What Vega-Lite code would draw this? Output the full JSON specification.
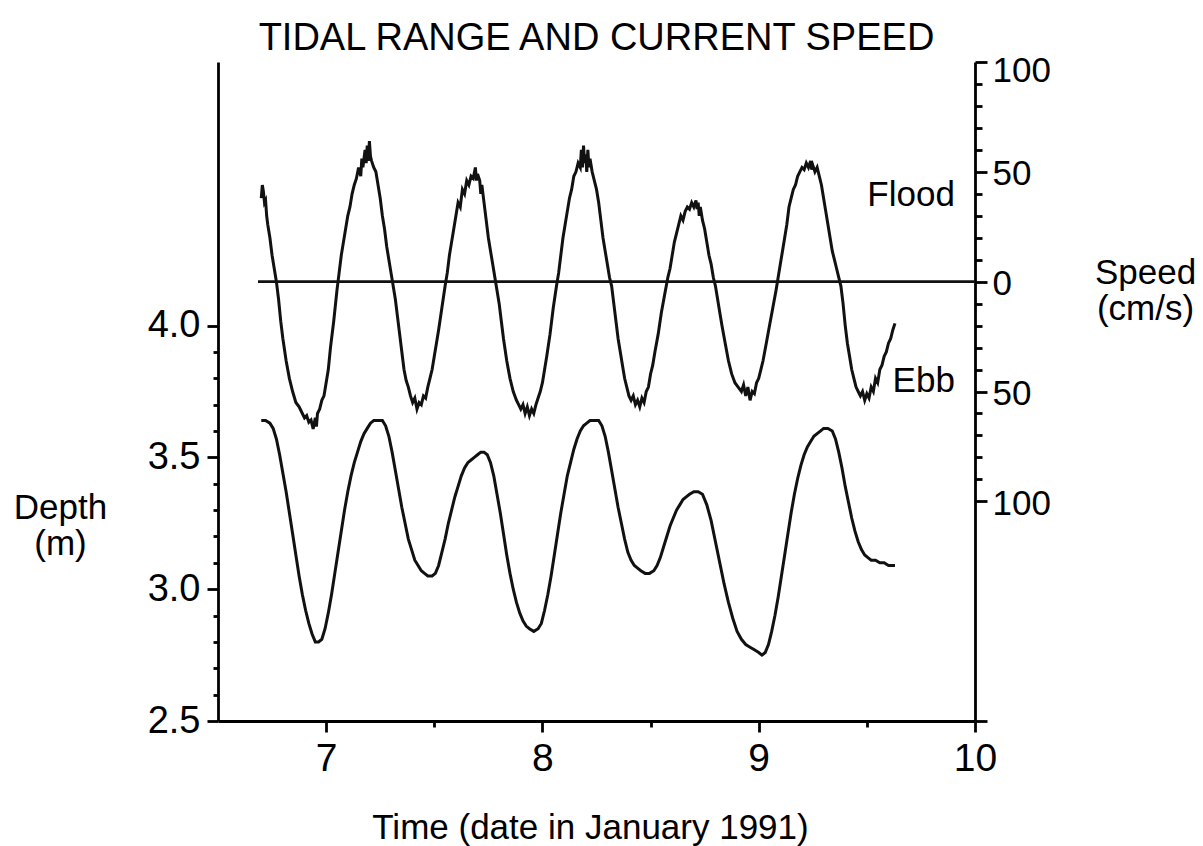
{
  "$schema": "https://vega.github.io/schema/vega-lite/v6.json",
  "width": 757,
  "height": 659,
  "autosize": {"type": "none"},
  "padding": {"left": 218, "top": 62, "right": 228, "bottom": 125},
  "background": "white",
  "title": {"text": "TIDAL RANGE AND CURRENT SPEED", "fontSize": 38, "fontWeight": "normal", "font": "Liberation Sans", "color": "black", "anchor": "middle", "offset": -5},
  "config": {
    "view": {"stroke": null},
    "font": "Liberation Sans",
    "axis": {"domainColor": "black", "domainWidth": 2.8, "tickColor": "black", "tickWidth": 2.8, "labelColor": "black", "labelFont": "Liberation Sans", "labelFontSize": 35, "titleFont": "Liberation Sans", "titleFontSize": 35, "titleFontWeight": "normal", "titleColor": "black", "grid": false, "labelFlush": false, "labelOverlap": false, "labelBound": false}
  },
  "datasets": {
    "depth": [
      {"t":6.700,"d":3.64},{"t":6.720,"d":3.64},{"t":6.740,"d":3.63},{"t":6.755,"d":3.61},{"t":6.770,"d":3.57},{"t":6.785,"d":3.51},{"t":6.800,"d":3.44},{"t":6.815,"d":3.37},{"t":6.830,"d":3.29},{"t":6.845,"d":3.21},{"t":6.860,"d":3.13},{"t":6.875,"d":3.05},{"t":6.890,"d":2.98},{"t":6.905,"d":2.92},{"t":6.920,"d":2.87},{"t":6.935,"d":2.83},{"t":6.950,"d":2.80},{"t":6.965,"d":2.80},{"t":6.980,"d":2.81},{"t":6.995,"d":2.85},
      {"t":7.010,"d":2.91},{"t":7.025,"d":2.98},{"t":7.040,"d":3.06},{"t":7.055,"d":3.14},{"t":7.070,"d":3.22},{"t":7.085,"d":3.30},{"t":7.100,"d":3.37},{"t":7.115,"d":3.43},{"t":7.130,"d":3.48},{"t":7.145,"d":3.52},{"t":7.160,"d":3.56},{"t":7.175,"d":3.59},{"t":7.190,"d":3.61},{"t":7.205,"d":3.63},{"t":7.220,"d":3.64},{"t":7.240,"d":3.64},{"t":7.260,"d":3.64},{"t":7.275,"d":3.62},{"t":7.290,"d":3.58},{"t":7.305,"d":3.52},
      {"t":7.320,"d":3.45},{"t":7.335,"d":3.38},{"t":7.350,"d":3.31},{"t":7.365,"d":3.25},{"t":7.380,"d":3.19},{"t":7.395,"d":3.15},{"t":7.410,"d":3.11},{"t":7.425,"d":3.09},{"t":7.440,"d":3.07},{"t":7.455,"d":3.06},{"t":7.470,"d":3.05},{"t":7.490,"d":3.05},{"t":7.505,"d":3.06},{"t":7.520,"d":3.09},{"t":7.535,"d":3.14},{"t":7.550,"d":3.19},{"t":7.565,"d":3.25},{"t":7.580,"d":3.30},{"t":7.595,"d":3.35},{"t":7.610,"d":3.39},
      {"t":7.625,"d":3.43},{"t":7.640,"d":3.46},{"t":7.655,"d":3.48},{"t":7.670,"d":3.49},{"t":7.685,"d":3.50},{"t":7.700,"d":3.51},{"t":7.715,"d":3.52},{"t":7.730,"d":3.52},{"t":7.745,"d":3.51},{"t":7.760,"d":3.48},{"t":7.775,"d":3.43},{"t":7.790,"d":3.36},{"t":7.805,"d":3.29},{"t":7.820,"d":3.21},{"t":7.835,"d":3.13},{"t":7.850,"d":3.06},{"t":7.865,"d":3.00},{"t":7.880,"d":2.95},{"t":7.895,"d":2.91},{"t":7.910,"d":2.88},
      {"t":7.925,"d":2.86},{"t":7.940,"d":2.85},{"t":7.960,"d":2.84},{"t":7.980,"d":2.85},{"t":7.995,"d":2.87},{"t":8.010,"d":2.92},{"t":8.025,"d":2.98},{"t":8.040,"d":3.05},{"t":8.055,"d":3.13},{"t":8.070,"d":3.21},{"t":8.085,"d":3.29},{"t":8.100,"d":3.36},{"t":8.115,"d":3.43},{"t":8.130,"d":3.48},{"t":8.145,"d":3.53},{"t":8.160,"d":3.57},{"t":8.175,"d":3.60},{"t":8.190,"d":3.62},{"t":8.205,"d":3.63},{"t":8.220,"d":3.64},
      {"t":8.240,"d":3.64},{"t":8.260,"d":3.64},{"t":8.275,"d":3.62},{"t":8.290,"d":3.58},{"t":8.305,"d":3.52},{"t":8.320,"d":3.45},{"t":8.335,"d":3.38},{"t":8.350,"d":3.31},{"t":8.365,"d":3.25},{"t":8.380,"d":3.19},{"t":8.395,"d":3.14},{"t":8.410,"d":3.11},{"t":8.425,"d":3.09},{"t":8.440,"d":3.08},{"t":8.455,"d":3.07},{"t":8.475,"d":3.06},{"t":8.495,"d":3.06},{"t":8.515,"d":3.07},{"t":8.530,"d":3.09},{"t":8.545,"d":3.12},
      {"t":8.560,"d":3.16},{"t":8.575,"d":3.20},{"t":8.590,"d":3.24},{"t":8.605,"d":3.27},{"t":8.620,"d":3.30},{"t":8.635,"d":3.32},{"t":8.650,"d":3.34},{"t":8.665,"d":3.35},{"t":8.680,"d":3.36},{"t":8.700,"d":3.37},{"t":8.720,"d":3.37},{"t":8.740,"d":3.36},{"t":8.760,"d":3.32},{"t":8.780,"d":3.26},{"t":8.800,"d":3.18},{"t":8.820,"d":3.10},{"t":8.840,"d":3.02},{"t":8.860,"d":2.95},{"t":8.880,"d":2.89},{"t":8.900,"d":2.84},
      {"t":8.920,"d":2.81},{"t":8.940,"d":2.79},{"t":8.960,"d":2.78},{"t":8.980,"d":2.77},{"t":9.000,"d":2.76},{"t":9.015,"d":2.75},{"t":9.030,"d":2.76},{"t":9.045,"d":2.79},{"t":9.060,"d":2.84},{"t":9.075,"d":2.90},{"t":9.090,"d":2.97},{"t":9.105,"d":3.05},{"t":9.120,"d":3.13},{"t":9.135,"d":3.21},{"t":9.150,"d":3.29},{"t":9.165,"d":3.36},{"t":9.180,"d":3.42},{"t":9.195,"d":3.47},{"t":9.210,"d":3.51},{"t":9.225,"d":3.54},
      {"t":9.240,"d":3.56},{"t":9.255,"d":3.58},{"t":9.270,"d":3.59},{"t":9.285,"d":3.60},{"t":9.300,"d":3.61},{"t":9.320,"d":3.61},{"t":9.340,"d":3.60},{"t":9.355,"d":3.57},{"t":9.370,"d":3.52},{"t":9.385,"d":3.46},{"t":9.400,"d":3.39},{"t":9.415,"d":3.33},{"t":9.430,"d":3.27},{"t":9.445,"d":3.22},{"t":9.460,"d":3.18},{"t":9.475,"d":3.15},{"t":9.490,"d":3.13},{"t":9.505,"d":3.12},{"t":9.520,"d":3.11},{"t":9.540,"d":3.11},
      {"t":9.560,"d":3.10},{"t":9.580,"d":3.10},{"t":9.600,"d":3.09},{"t":9.630,"d":3.09}
    ],
    "speed": [
      {"t":6.700,"s":38},{"t":6.705,"s":44},{"t":6.710,"s":41},{"t":6.715,"s":36},{"t":6.720,"s":37},{"t":6.725,"s":30},{"t":6.730,"s":26},{"t":6.740,"s":20},{"t":6.750,"s":12},{"t":6.760,"s":6},{"t":6.770,"s":0},{"t":6.780,"s":-8},{"t":6.790,"s":-18},{"t":6.800,"s":-26},{"t":6.815,"s":-36},{"t":6.830,"s":-44},{"t":6.845,"s":-50},{"t":6.860,"s":-55},{"t":6.875,"s":-57},{"t":6.890,"s":-60},
      {"t":6.900,"s":-62},{"t":6.910,"s":-61},{"t":6.920,"s":-64},{"t":6.930,"s":-63},{"t":6.940,"s":-67},{"t":6.950,"s":-62},{"t":6.955,"s":-66},{"t":6.960,"s":-60},{"t":6.970,"s":-58},{"t":6.980,"s":-54},{"t":6.990,"s":-52},{"t":7.000,"s":-46},{"t":7.010,"s":-40},{"t":7.020,"s":-30},{"t":7.035,"s":-18},{"t":7.050,"s":-4},{"t":7.060,"s":4},{"t":7.070,"s":12},{"t":7.080,"s":18},{"t":7.090,"s":24},
      {"t":7.100,"s":30},{"t":7.110,"s":34},{"t":7.120,"s":40},{"t":7.130,"s":44},{"t":7.140,"s":47},{"t":7.150,"s":52},{"t":7.160,"s":48},{"t":7.165,"s":56},{"t":7.170,"s":52},{"t":7.180,"s":60},{"t":7.185,"s":54},{"t":7.190,"s":62},{"t":7.195,"s":55},{"t":7.200,"s":64},{"t":7.205,"s":57},{"t":7.210,"s":55},{"t":7.220,"s":52},{"t":7.230,"s":50},{"t":7.240,"s":44},{"t":7.250,"s":38},
      {"t":7.260,"s":30},{"t":7.270,"s":24},{"t":7.280,"s":16},{"t":7.290,"s":10},{"t":7.300,"s":4},{"t":7.310,"s":-2},{"t":7.320,"s":-8},{"t":7.330,"s":-16},{"t":7.340,"s":-24},{"t":7.350,"s":-32},{"t":7.360,"s":-40},{"t":7.370,"s":-45},{"t":7.380,"s":-48},{"t":7.390,"s":-52},{"t":7.400,"s":-55},{"t":7.410,"s":-53},{"t":7.420,"s":-58},{"t":7.430,"s":-55},{"t":7.440,"s":-56},{"t":7.450,"s":-52},
      {"t":7.460,"s":-53},{"t":7.470,"s":-48},{"t":7.480,"s":-44},{"t":7.490,"s":-40},{"t":7.500,"s":-34},{"t":7.510,"s":-28},{"t":7.520,"s":-22},{"t":7.535,"s":-12},{"t":7.550,"s":-2},{"t":7.560,"s":4},{"t":7.570,"s":12},{"t":7.580,"s":18},{"t":7.590,"s":24},{"t":7.600,"s":30},{"t":7.610,"s":36},{"t":7.620,"s":34},{"t":7.630,"s":42},{"t":7.640,"s":40},{"t":7.650,"s":46},{"t":7.660,"s":44},
      {"t":7.670,"s":48},{"t":7.680,"s":47},{"t":7.690,"s":52},{"t":7.695,"s":46},{"t":7.700,"s":49},{"t":7.710,"s":46},{"t":7.715,"s":40},{"t":7.720,"s":44},{"t":7.730,"s":36},{"t":7.740,"s":28},{"t":7.750,"s":20},{"t":7.760,"s":14},{"t":7.770,"s":8},{"t":7.780,"s":2},{"t":7.790,"s":-4},{"t":7.800,"s":-10},{"t":7.810,"s":-18},{"t":7.820,"s":-26},{"t":7.835,"s":-36},{"t":7.850,"s":-44},
      {"t":7.865,"s":-50},{"t":7.880,"s":-54},{"t":7.890,"s":-56},{"t":7.900,"s":-58},{"t":7.910,"s":-56},{"t":7.920,"s":-60},{"t":7.930,"s":-57},{"t":7.940,"s":-61},{"t":7.950,"s":-58},{"t":7.960,"s":-60},{"t":7.970,"s":-56},{"t":7.980,"s":-53},{"t":7.990,"s":-50},{"t":8.000,"s":-46},{"t":8.010,"s":-40},{"t":8.020,"s":-34},{"t":8.035,"s":-24},{"t":8.050,"s":-12},{"t":8.065,"s":-2},{"t":8.075,"s":4},
      {"t":8.085,"s":12},{"t":8.095,"s":20},{"t":8.105,"s":26},{"t":8.115,"s":32},{"t":8.125,"s":38},{"t":8.135,"s":42},{"t":8.145,"s":48},{"t":8.155,"s":50},{"t":8.165,"s":54},{"t":8.175,"s":52},{"t":8.180,"s":60},{"t":8.185,"s":52},{"t":8.190,"s":62},{"t":8.195,"s":54},{"t":8.200,"s":58},{"t":8.205,"s":50},{"t":8.210,"s":60},{"t":8.215,"s":52},{"t":8.220,"s":56},{"t":8.230,"s":50},
      {"t":8.240,"s":46},{"t":8.250,"s":42},{"t":8.260,"s":36},{"t":8.270,"s":28},{"t":8.280,"s":20},{"t":8.290,"s":14},{"t":8.300,"s":8},{"t":8.310,"s":2},{"t":8.320,"s":-2},{"t":8.330,"s":-10},{"t":8.340,"s":-18},{"t":8.350,"s":-26},{"t":8.360,"s":-32},{"t":8.370,"s":-38},{"t":8.380,"s":-44},{"t":8.390,"s":-48},{"t":8.400,"s":-52},{"t":8.410,"s":-54},{"t":8.420,"s":-52},{"t":8.430,"s":-56},
      {"t":8.440,"s":-54},{"t":8.450,"s":-57},{"t":8.460,"s":-53},{"t":8.470,"s":-55},{"t":8.480,"s":-50},{"t":8.490,"s":-48},{"t":8.500,"s":-42},{"t":8.510,"s":-38},{"t":8.520,"s":-32},{"t":8.535,"s":-24},{"t":8.550,"s":-14},{"t":8.565,"s":-6},{"t":8.580,"s":2},{"t":8.590,"s":6},{"t":8.600,"s":12},{"t":8.610,"s":18},{"t":8.620,"s":22},{"t":8.630,"s":26},{"t":8.640,"s":30},{"t":8.650,"s":28},
      {"t":8.660,"s":32},{"t":8.670,"s":34},{"t":8.680,"s":33},{"t":8.690,"s":36},{"t":8.700,"s":34},{"t":8.710,"s":37},{"t":8.715,"s":33},{"t":8.720,"s":36},{"t":8.725,"s":30},{"t":8.730,"s":34},{"t":8.740,"s":28},{"t":8.750,"s":24},{"t":8.760,"s":18},{"t":8.770,"s":12},{"t":8.780,"s":8},{"t":8.790,"s":2},{"t":8.800,"s":-2},{"t":8.810,"s":-8},{"t":8.820,"s":-14},{"t":8.830,"s":-20},
      {"t":8.845,"s":-28},{"t":8.860,"s":-36},{"t":8.875,"s":-42},{"t":8.890,"s":-46},{"t":8.905,"s":-48},{"t":8.920,"s":-50},{"t":8.930,"s":-47},{"t":8.940,"s":-52},{"t":8.950,"s":-48},{"t":8.960,"s":-54},{"t":8.970,"s":-50},{"t":8.980,"s":-51},{"t":8.990,"s":-46},{"t":9.000,"s":-44},{"t":9.010,"s":-40},{"t":9.020,"s":-36},{"t":9.035,"s":-28},{"t":9.050,"s":-20},{"t":9.065,"s":-12},{"t":9.080,"s":-4},
      {"t":9.090,"s":2},{"t":9.100,"s":8},{"t":9.110,"s":14},{"t":9.120,"s":20},{"t":9.130,"s":26},{"t":9.140,"s":34},{"t":9.150,"s":38},{"t":9.160,"s":42},{"t":9.170,"s":44},{"t":9.180,"s":48},{"t":9.190,"s":50},{"t":9.200,"s":52},{"t":9.210,"s":51},{"t":9.220,"s":54},{"t":9.230,"s":52},{"t":9.240,"s":55},{"t":9.245,"s":51},{"t":9.250,"s":53},{"t":9.260,"s":50},{"t":9.270,"s":52},
      {"t":9.280,"s":48},{"t":9.290,"s":44},{"t":9.300,"s":38},{"t":9.310,"s":32},{"t":9.320,"s":26},{"t":9.330,"s":20},{"t":9.340,"s":14},{"t":9.350,"s":10},{"t":9.360,"s":6},{"t":9.370,"s":2},{"t":9.380,"s":-2},{"t":9.390,"s":-10},{"t":9.400,"s":-20},{"t":9.410,"s":-28},{"t":9.420,"s":-34},{"t":9.430,"s":-40},{"t":9.440,"s":-44},{"t":9.450,"s":-48},{"t":9.460,"s":-50},{"t":9.470,"s":-52},
      {"t":9.480,"s":-50},{"t":9.490,"s":-54},{"t":9.500,"s":-51},{"t":9.510,"s":-53},{"t":9.520,"s":-48},{"t":9.530,"s":-50},{"t":9.540,"s":-44},{"t":9.550,"s":-46},{"t":9.560,"s":-40},{"t":9.570,"s":-38},{"t":9.580,"s":-34},{"t":9.590,"s":-32},{"t":9.600,"s":-28},{"t":9.610,"s":-26},{"t":9.620,"s":-22},{"t":9.630,"s":-19}
    ],
    "zero": [{"t": 6.685, "t2": 10, "s": 0}],
    "labels": [{"t": 9.907, "s": 34.4, "label": "Flood"}, {"t": 9.907, "s": -50.4, "label": "Ebb"}]
  },
  "encoding": {
    "x": {
      "field": "t", "type": "quantitative",
      "scale": {"domain": [6.5, 10], "nice": false, "zero": false},
      "axis": {
        "values": [7, 7.5, 8, 8.5, 9, 9.5, 10],
        "tickSize": {"condition": {"test": "datum.value % 1 === 0", "value": 11}, "value": 6},
        "labelExpr": "datum.value % 1 === 0 ? format(datum.value, 'd') : ''",
        "labelFontSize": 39,
        "labelPadding": 7, "labelBaseline": "top",
        "title": "Time (date in January 1991)", "titleX": 372, "titleY": 89, "titleAlign": "center", "titleBaseline": "top"
      }
    }
  },
  "resolve": {"scale": {"y": "independent"}},
  "layer": [
    {
      "data": {"name": "depth"},
      "mark": {"type": "line", "color": "#111", "strokeWidth": 3},
      "encoding": {
        "y": {
          "field": "d", "type": "quantitative",
          "scale": {"domain": [2.5, 5], "nice": false, "zero": false},
          "axis": {
            "orient": "left",
            "values": [2.5, 2.6, 2.7, 2.8, 2.9, 3.0, 3.1, 3.2, 3.3, 3.4, 3.5, 3.6, 3.7, 3.8, 3.9, 4.0],
            "tickSize": {"condition": {"test": "abs(datum.value * 2 - round(datum.value * 2)) < 0.001", "value": 11}, "value": 5},
            "labelExpr": "abs(datum.value * 2 - round(datum.value * 2)) < 0.001 ? format(datum.value, '.1f') : ''",
            "labelFontSize": 38,
            "labelPadding": 7, "labelBaseline": "middle",
            "title": ["Depth", "(m)"], "titleX": -158, "titleY": 428, "titleAngle": 0, "titleAlign": "center", "titleBaseline": "top", "titleLineHeight": 36
          }
        }
      }
    },
    {
      "encoding": {
        "y": {
          "field": "s", "type": "quantitative",
          "scale": {"domain": [-200, 100], "nice": false, "zero": false},
          "axis": {
            "orient": "right",
            "values": [100, 90, 80, 70, 60, 50, 40, 30, 20, 10, 0, -10, -20, -30, -40, -50, -60, -70, -80, -90, -100, -200],
            "tickSize": {"condition": {"test": "datum.value % 50 === 0", "value": 12}, "value": 7},
            "labelExpr": "(datum.value % 50 === 0 && datum.value >= -100) ? format(abs(datum.value), 'd') : ''",
            "labelOffset": {"condition": {"test": "datum.value === 100", "value": 8}, "value": 2},
            "labelPadding": 5, "labelBaseline": "middle",
            "title": ["Speed", "(cm/s)"], "titleX": 170, "titleY": 193, "titleAngle": 0, "titleAlign": "center", "titleBaseline": "top", "titleLineHeight": 36
          }
        }
      },
      "layer": [
        {
          "data": {"name": "speed"},
          "mark": {"type": "line", "color": "#111", "strokeWidth": 3}
        },
        {
          "data": {"name": "zero"},
          "mark": {"type": "rule", "color": "#111", "strokeWidth": 2.8},
          "encoding": {"x2": {"field": "t2"}}
        },
        {
          "data": {"name": "labels"},
          "mark": {"type": "text", "align": "right", "baseline": "alphabetic", "fontSize": 35, "font": "Liberation Sans", "color": "black"},
          "encoding": {"text": {"field": "label"}}
        }
      ]
    }
  ]
}
